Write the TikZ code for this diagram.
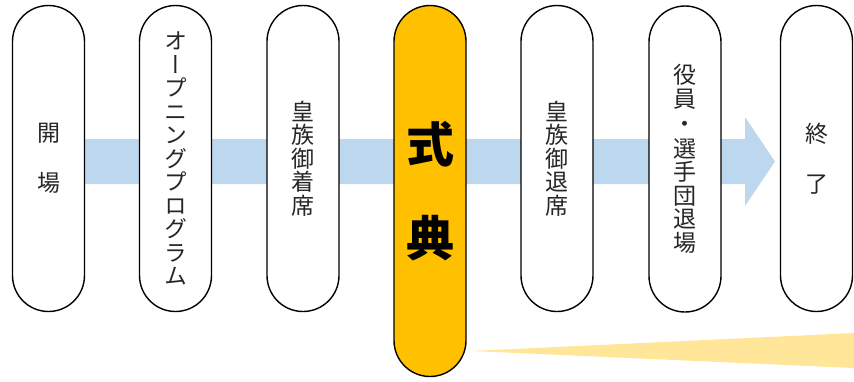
\documentclass[tikz,border=0pt]{standalone}
\usepackage{fontspec}
\newfontfamily\jp[RawFeature=+vert]{Noto Sans CJK JP}
\usetikzlibrary{calc}
\definecolor{bandblue}{HTML}{BDD7EE}
\definecolor{riteorange}{HTML}{FFC000}
\definecolor{wedgeyellow}{HTML}{FFE699}
\pgfdeclarelayer{background}
\pgfsetlayers{background,main}
\tikzset{
  pill/.style={draw=black, line width=1.4pt, fill=white, rounded corners=36pt,
    minimum width=72pt, minimum height=306pt, inner sep=0pt, align=center,
    font=\jp\fontsize{23}{23.5}\selectfont, text=black!85},
}

\begin{document}
\begin{tikzpicture}[x=1pt,y=-1pt]
    \useasboundingbox (0,0) rectangle (854,381);

    \node[pill] (open) at (48.5,158.5) {開\\[26.5pt]場};
    \node[pill] (prog) at (175.5,158.5) {オ\\ー\\プ\\ニ\\ン\\グ\\プ\\ロ\\グ\\ラ\\ム};
    \node[pill] (seat) at (303,158.5) {皇\\族\\御\\着\\席};
    \node[pill, fill=riteorange, minimum height=371pt, text=black,
      font=\jp\bfseries\fontsize{48}{48}\selectfont] (rite) at (430,191) {式\\[46pt]典};
    \node[pill] (leave) at (557,158.5) {皇\\族\\御\\退\\席};
    \node[pill] (exit) at (685,159) {役\\員\\[1.5pt]・\\[1.5pt]選\\手\\団\\退\\場};
    \node[pill] (close) at (816.5,158.5) {終\\[26.5pt]了};

    \begin{pgfonlayer}{background}
        \coordinate (tip) at (775,161.5);
        \fill[bandblue] (open.center |- 0,139) -- (745,139) -- (745,117) -- (tip)
            -- (745,206) -- (745,184) -- (open.center |- 0,184) -- cycle;
        \coordinate (wedge) at (472,351);
        \fill[wedgeyellow] (wedge) -- (854,333) -- (854,368) -- cycle;
    \end{pgfonlayer}
\end{tikzpicture}
\end{document}
